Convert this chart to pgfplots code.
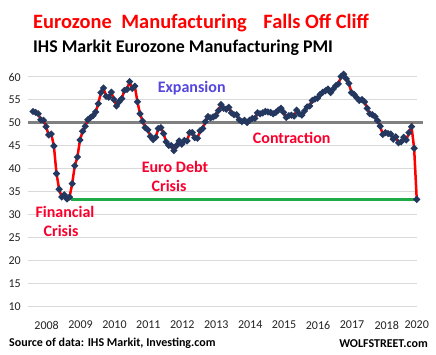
\documentclass[border=0pt]{standalone}
\usepackage{fontspec}
\setmainfont{Carlito}
\usepackage{pgfplots}
\pgfplotsset{compat=1.18}
\definecolor{titlered}{RGB}{255,0,0}
\definecolor{annred}{RGB}{250,0,45}
\definecolor{expblue}{RGB}{85,70,220}
\definecolor{gridgray}{RGB}{217,217,217}
\definecolor{navy}{RGB}{35,55,95}
\definecolor{linegray}{RGB}{128,128,128}
\definecolor{lgreen}{RGB}{30,170,70}
\definecolor{ticktext}{RGB}{35,35,35}
\begin{document}
\begin{tikzpicture}[x=1pt,y=1pt]
\path[use as bounding box] (0,0) rectangle (436,355);
\begin{axis}[
  at={(28pt,48pt)}, anchor=south west,
  scale only axis,
  width=389pt, height=234.6pt,
  xmin=-1.92, xmax=147.1,
  ymin=10, ymax=61,
  ytick={10,15,...,60},
  xtick={5.2,18.2,31.2,44.2,57.2,70.2,83.2,96.2,109.2,122.2,135.5,147},
  xticklabels={2008,2009,2010,2011,2012,2013,2014,2015,2016,2017,2018,2020},
  major tick length=0pt,
  axis line style={draw=none},
  ymajorgrids,
  grid style={gridgray, line width=1pt},
  tick label style={font=\fontsize{12}{12}\selectfont, text=ticktext, inner sep=0pt},
  yticklabel style={anchor=east, xshift=-7pt},
  xticklabel style={anchor=north, yshift=-14pt},
  /pgf/number format/assume math mode=true,
  clip=false,
]
\addplot[linegray, line width=3pt, forget plot] coordinates {(-1.92,50) (149.3,50)};
\addplot[lgreen, line width=3pt, forget plot] coordinates {(14.5,33.4) (147,33.4)};
\addplot[red, line width=2.5pt, mark=*, mark size=1.9pt, mark options={solid, fill=navy, draw=navy}] table {
x y
0 52.5
1 52.3
2 52.0
3 50.7
4 50.6
5 49.2
6 47.4
7 47.6
8 45.0
9 39.0
10 35.6
11 33.9
12 34.4
13 33.5
14 33.9
15 36.8
16 40.7
17 42.6
18 46.3
19 48.2
20 49.3
21 50.7
22 51.2
23 51.6
24 52.4
25 54.2
26 56.6
27 57.6
28 55.8
29 55.6
30 56.7
31 55.1
32 53.7
33 54.6
34 55.3
35 57.1
36 57.3
37 59.0
38 57.5
39 58.0
40 54.6
41 52.0
42 50.4
43 49.0
44 48.5
45 47.1
46 46.4
47 46.9
48 48.8
49 49.0
50 47.7
51 45.9
52 45.1
53 45.1
54 44.0
55 45.1
56 46.1
57 45.4
58 46.2
59 46.1
60 47.9
61 47.9
62 46.8
63 46.7
64 48.3
65 48.8
66 50.3
67 51.4
68 51.1
69 51.3
70 51.6
71 52.7
72 54.0
73 53.2
74 53.0
75 53.4
76 52.2
77 51.8
78 51.8
79 50.7
80 50.3
81 50.6
82 50.1
83 50.6
84 51.0
85 51.0
86 52.2
87 52.0
88 52.2
89 52.5
90 52.4
91 52.3
92 52.0
93 52.3
94 52.8
95 53.2
96 52.3
97 51.2
98 51.6
99 51.7
100 51.5
101 52.8
102 52.0
103 51.7
104 52.6
105 53.5
106 53.7
107 54.9
108 55.2
109 55.4
110 56.2
111 56.7
112 57.0
113 57.4
114 56.6
115 57.4
116 58.1
117 58.5
118 60.1
119 60.6
120 59.6
121 58.6
122 56.6
123 56.2
124 55.5
125 54.9
126 55.1
127 54.6
128 53.2
129 52.0
130 51.8
131 51.4
132 50.5
133 49.3
134 47.5
135 47.9
136 47.7
137 47.6
138 46.5
139 47.0
140 45.7
141 45.9
142 46.9
143 46.3
144 47.9
145 49.2
146 44.5
147 33.4
};
\end{axis}
\node[anchor=west, inner sep=0pt, text=titlered, font=\fontsize{20.4}{20.4}\selectfont\bfseries] at (33,332) {Eurozone\hspace{5pt} Manufacturing\hspace{12pt} Falls Off Cliff};
\node[anchor=west, inner sep=0pt, text=black, font=\fontsize{17.9}{17.9}\selectfont\bfseries] at (33,307) {IHS Markit Eurozone Manufacturing PMI};
\node[anchor=west, inner sep=0pt, text=black, font=\fontsize{12}{12}\selectfont\bfseries] at (9,11.5) {Source of data: IHS Markit, Investing.com};
\node[anchor=east, inner sep=0pt, text=black, font=\fontsize{12}{12}\selectfont\bfseries] at (428,11.5) {WOLFSTREET.com};
\node[inner sep=0pt, text=expblue, font=\fontsize{16}{16}\selectfont\bfseries] at (191.7,267) {Expansion};
\node[inner sep=0pt, text=annred, font=\fontsize{16}{16}\selectfont\bfseries] at (291.7,217.3) {Contraction};
\node[inner sep=0pt, text=annred, font=\fontsize{16}{16}\selectfont\bfseries] at (175,188.3) {Euro Debt};
\node[inner sep=0pt, text=annred, font=\fontsize{16}{16}\selectfont\bfseries] at (169,169.3) {Crisis};
\node[inner sep=0pt, text=annred, font=\fontsize{16}{16}\selectfont\bfseries] at (65,142.7) {Financial};
\node[inner sep=0pt, text=annred, font=\fontsize{16}{16}\selectfont\bfseries] at (61,124.3) {Crisis};
\end{tikzpicture}
\end{document}
